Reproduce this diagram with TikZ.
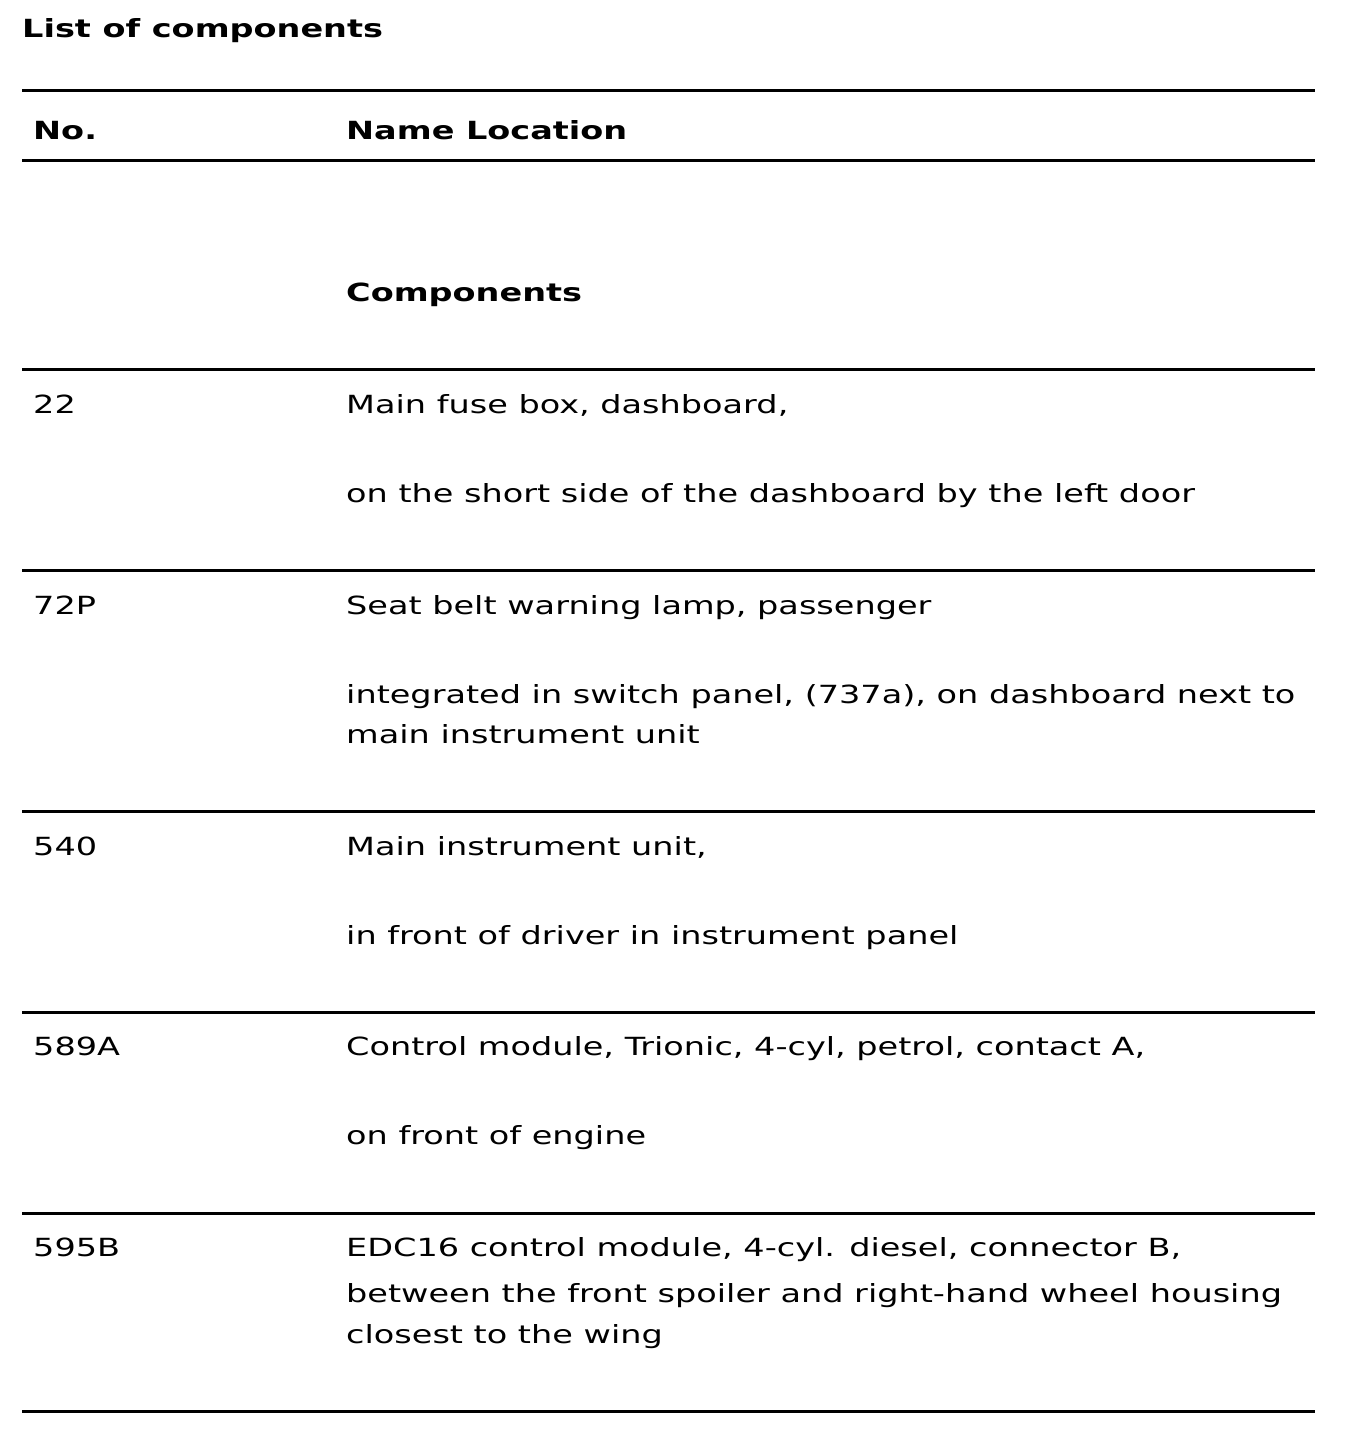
\documentclass[tikz,border=0pt]{standalone}
\usepackage{fontspec}
\setmainfont{DejaVu Sans}[FakeStretch=1.34]
\tikzset{
  txt/.style={anchor=base west, inner sep=0pt, font=\fontsize{25}{40}\selectfont},
  hd/.style={txt, font=\fontsize{25}{40}\selectfont\bfseries},
  rule/.style={line width=3pt}
}
\begin{document}
\begin{tikzpicture}[x=1pt, y=-1pt]
\useasboundingbox (0, 0) rectangle (1344, 1432);
\node[hd] (title) at (22, 37) {List of components};
\draw[rule] (22, 90) -- (1315, 90);
\node[hd] (hno) at (33, 139) {No.};
\node[hd] (hname) at (346, 139) {Name Location};
\draw[rule] (22, 160) -- (1315, 160);
\node[hd] (hcomp) at (346, 301) {Components};
\draw[rule] (22, 369) -- (1315, 369);
\node[txt] (n22) at (33, 413) {22};
\node[txt] (d22a) at (346, 413) {Main fuse box, dashboard,};
\node[txt] (d22b) at (346, 502) {on the short side of the dashboard by the left door};
\draw[rule] (22, 570) -- (1315, 570);
\node[txt] (n72) at (33, 614) {72P};
\node[txt] (d72a) at (346, 614) {Seat belt warning lamp, passenger};
\node[txt] (d72b) at (346, 703) {integrated in switch panel, (737a), on dashboard next to};
\node[txt] (d72c) at (346, 743) {main instrument unit};
\draw[rule] (22, 811) -- (1315, 811);
\node[txt] (n540) at (33, 855) {540};
\node[txt] (d540a) at (346, 855) {Main instrument unit,};
\node[txt] (d540b) at (346, 944) {in front of driver in instrument panel};
\draw[rule] (22, 1012) -- (1315, 1012);
\node[txt] (n589) at (33, 1055) {589A};
\node[txt] (d589a) at (346, 1055) {Control module, Trionic, 4-cyl, petrol, contact A,};
\node[txt] (d589b) at (346, 1144) {on front of engine};
\draw[rule] (22, 1213) -- (1315, 1213);
\node[txt] (n595) at (33, 1256) {595B};
\node[txt] (d595a) at (346, 1256) {EDC16 control module, 4-cyl. diesel, connector B,};
\node[txt] (d595b) at (346, 1302) {between the front spoiler and right-hand wheel housing};
\node[txt] (d595c) at (346, 1343) {closest to the wing};
\draw[rule] (22, 1411) -- (1315, 1411);
\end{tikzpicture}
\end{document}
